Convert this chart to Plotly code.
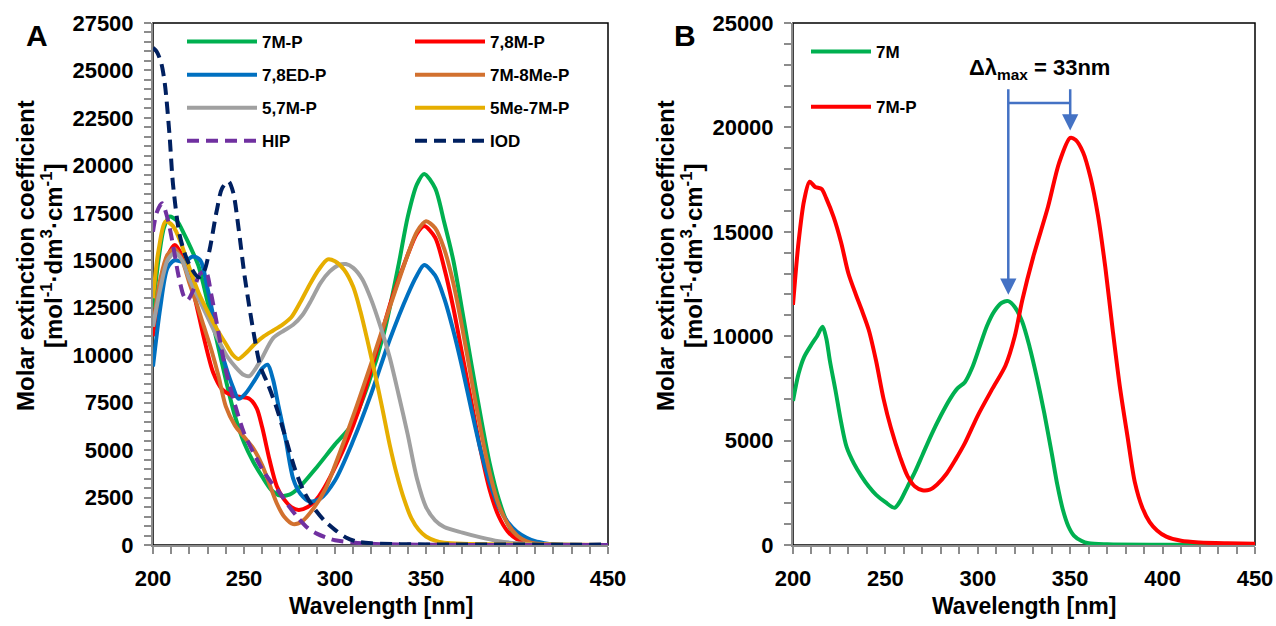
import numpy as np
import plotly.graph_objects as go
from plotly.subplots import make_subplots

# ---- panel A data (wavelength [nm], molar extinction coefficient) ----
wl_7MP = [200, 203, 206, 209, 213, 217, 221, 225, 230, 235, 240, 245, 250, 255, 260, 265, 270, 275, 280,
          290, 300, 309, 318, 327, 335, 340, 345, 349, 355, 360, 365, 370, 375, 380, 385, 390, 395, 400, 405, 410, 450]
eps_7MP = [12500, 15000, 16700, 17300, 17100, 16400, 15600, 14700, 12800, 10800, 8700, 6800, 5400, 4400, 3600,
           2900, 2600, 2650, 3000, 4100, 5300, 6300, 8400, 11200, 14800, 17300, 19000, 19550, 18800, 17000, 15000,
           12300, 9500, 6800, 4300, 2400, 1100, 400, 120, 30, 0]

wl_78MP = [200, 204, 208, 212, 218, 223, 228, 233, 238, 243, 248, 253, 257, 260, 264, 268, 272, 276, 280, 285,
           291, 302, 313, 324, 331, 340, 345, 349, 355, 360, 365, 370, 375, 380, 385, 390, 395, 400, 405, 410, 450]
eps_78MP = [11000, 13500, 15200, 15800, 14800, 13000, 10900, 9100, 8200, 7900, 7800, 7700, 7200, 6200, 4500,
            3100, 2400, 2000, 1850, 2000, 2550, 4480, 7100, 10600, 12900, 15300, 16400, 16800, 16200, 14600, 12500,
            10000, 7500, 5000, 2900, 1500, 700, 300, 120, 40, 0]

wl_78EDP = [200, 204, 208, 212, 217, 222, 226, 230, 235, 240, 244, 247, 251, 256, 260, 263, 266, 269, 273, 277,
            281, 286, 292, 300, 310, 320, 330, 340, 345, 349, 355, 360, 365, 370, 375, 380, 385, 390, 395, 400, 405,
            410, 415, 420, 450]
eps_78EDP = [9400, 12500, 14600, 15000, 14900, 15200, 15000, 13500, 11200, 9400, 8300, 7700, 8000, 8700, 9300,
             9500, 8700, 7300, 5500, 3500, 2700, 2300, 2450, 3400, 5500, 8000, 10800, 13200, 14200, 14750, 14200,
             13000, 11300, 9300, 7100, 5000, 3300, 2000, 1200, 700, 400, 200, 100, 40, 0]

wl_7M8MeP = [200, 204, 208, 212, 216, 220, 224, 228, 232, 236, 240, 245, 250, 255, 260, 264, 268, 272, 277, 282,
             288, 295, 300, 310, 320, 330, 340, 345, 350, 355, 360, 365, 370, 375, 380, 385, 390, 395, 400, 405,
             410, 420, 450]
eps_7M8MeP = [11500, 14000, 15300, 15600, 15000, 13800, 12700, 11500, 10300, 8900, 7300, 6300, 5700, 5100, 4200,
              3200, 2200, 1500, 1100, 1250, 1900, 3000, 4200, 6800, 9600, 12500, 15300, 16500, 17050, 16700, 15600,
              13800, 11400, 8700, 6100, 3800, 2100, 1100, 500, 200, 80, 20, 0]

wl_57MP = [200, 204, 208, 212, 216, 220, 225, 232, 241, 250, 253, 259, 266, 272, 277, 282, 287, 292, 297, 302,
           306, 310, 315, 320, 325, 330, 335, 340, 345, 350, 355, 360, 370, 380, 390, 400, 410, 450]
eps_57MP = [11500, 13500, 15000, 15400, 15000, 14000, 13000, 11600, 9900, 8950, 8900, 9700, 10900, 11300, 11600,
            12100, 12900, 13800, 14400, 14750, 14800, 14600, 14000, 12900, 11500, 9900, 7900, 5800, 3500, 2000,
            1300, 950, 650, 400, 200, 90, 30, 0]

wl_5Me7MP = [200, 203, 207, 211, 215, 220, 225, 230, 235, 240, 244, 247, 251, 256, 261, 266, 271, 276, 281, 286,
             291, 296, 300, 305, 310, 314, 318, 322, 326, 330, 334, 338, 342, 346, 350, 355, 360, 370, 400, 450]
eps_5Me7MP = [13000, 15500, 17050, 16800, 16000, 14600, 13300, 12300, 11400, 10600, 10000, 9800, 10100, 10600,
              11000, 11300, 11600, 12000, 12800, 13700, 14500, 15050, 14950, 14500, 13600, 12300, 10700, 9000, 7200,
              5300, 3700, 2400, 1400, 800, 450, 230, 120, 60, 20, 0]

wl_HIP = [200, 202, 205, 208, 211, 214, 217, 219, 222, 226, 229, 232, 235, 240, 245, 250, 255, 260, 265, 270, 275,
          280, 285, 290, 295, 300, 310, 320, 340, 450]
eps_HIP = [16500, 17500, 18000, 17200, 15800, 14200, 13100, 12900, 13400, 14300, 14400, 13200, 11700, 9200, 7400,
           5900, 4900, 4000, 3300, 2700, 2000, 1400, 900, 600, 400, 250, 130, 60, 20, 0]

wl_IOD = [200, 202, 204.5, 206.5, 209, 211, 214.5, 218, 221, 225, 228, 231, 235, 238, 241.5, 244, 247, 250, 253,
          256, 259, 263, 268, 273, 278, 283, 288, 294, 300, 306, 312, 320, 340, 450]
eps_IOD = [26200, 26000, 25400, 24300, 21700, 19000, 16400, 15200, 14600, 14100, 14400, 15500, 17600, 18800, 19150,
           18600, 16700, 14400, 12500, 10800, 9400, 8500, 7200, 5600, 4000, 2800, 2000, 1300, 800, 400, 180, 90, 40, 20]

# ---- panel B data ----
wl_7M = [200, 203, 206, 210, 213, 216, 218, 220, 223, 226, 229, 233, 237, 241, 245, 250, 255, 258, 262, 266, 270,
         275, 280, 285, 289, 293, 297, 301, 305, 309, 313, 316.5, 320, 324, 328, 332, 336, 340, 343, 346, 349, 352,
         356, 360, 370, 400, 450]
eps_7M = [6900, 8200, 9000, 9600, 10000, 10450, 9900, 8800, 7400, 5900, 4700, 3900, 3300, 2800, 2400, 2050, 1780,
          2100, 2800, 3500, 4300, 5300, 6200, 7000, 7500, 7800, 8500, 9500, 10500, 11200, 11600, 11680, 11400, 10700,
          9500, 8000, 6300, 4400, 2900, 1700, 900, 450, 200, 80, 30, 10, 5]

wl_7MP_B = [200, 203, 206, 209, 212, 215.5, 218, 222, 226, 230, 234, 237, 241, 245, 249, 253, 258, 262, 266, 270,
            274, 278, 283, 288, 293, 300, 308, 315, 320, 324, 330, 338, 344, 350, 353, 357, 361, 365, 369, 373, 377,
            381, 385, 389, 393, 397, 402, 410, 420, 435, 450]
eps_7MP_B = [11500, 14500, 16500, 17400, 17150, 17050, 16600, 15700, 14500, 13000, 12000, 11300, 10300, 8800, 7000,
             5600, 4200, 3300, 2800, 2620, 2650, 2900, 3400, 4100, 4880, 6200, 7500, 8600, 10000, 11700, 13800, 16200,
             18300, 19500, 19400, 18800, 17600, 15800, 13300, 10300, 7500, 5200, 3000, 1800, 1100, 700, 400, 200, 120,
             80, 60]

FONT = "Liberation Sans, Arial, sans-serif"
BLUE_ARROW = "#4472C4"
W, H = 1276, 626
PLOT_TOP, PLOT_BOTTOM = 23, 545


def px_x(px):
    return px / W


def px_y(py):
    return (PLOT_BOTTOM - py) / (PLOT_BOTTOM - PLOT_TOP)


series_A = [
    ("7M-P", wl_7MP, eps_7MP, "#00B050", "solid", "legend"),
    ("7,8M-P", wl_78MP, eps_78MP, "#FF0000", "solid", "legend2"),
    ("7,8ED-P", wl_78EDP, eps_78EDP, "#0070C0", "solid", "legend"),
    ("7M-8Me-P", wl_7M8MeP, eps_7M8MeP, "#D2712F", "solid", "legend2"),
    ("5,7M-P", wl_57MP, eps_57MP, "#A0A0A0", "solid", "legend"),
    ("5Me-7M-P", wl_5Me7MP, eps_5Me7MP, "#E6AE00", "solid", "legend2"),
    ("HIP", wl_HIP, eps_HIP, "#7030A0", "12px,7px", "legend"),
    ("IOD", wl_IOD, eps_IOD, "#002060", "12px,7px", "legend2"),
]

fig = make_subplots(rows=1, cols=2)

for name, x, y, color, dash, leg in series_A:
    fig.add_trace(go.Scatter(x=x, y=y, name=name, mode="lines", legend=leg, legendgroup=name,
                             line=dict(color=color, width=4, dash=dash, shape="spline", smoothing=0.8)),
                  row=1, col=1)

fig.add_trace(go.Scatter(x=wl_7M, y=eps_7M, name="7M", mode="lines", legend="legend3", legendgroup="7M",
                         line=dict(color="#00B050", width=4, shape="spline", smoothing=0.8)), row=1, col=2)
fig.add_trace(go.Scatter(x=wl_7MP_B, y=eps_7MP_B, name="7M-P", mode="lines", legend="legend3", legendgroup="7MPB",
                         line=dict(color="#FF0000", width=4, shape="spline", smoothing=0.8)), row=1, col=2)

tickfont = dict(family=FONT, size=22, color="black", weight="bold")
titlefont = dict(family=FONT, size=23, color="black", weight="bold")
ytitlefont = dict(family=FONT, size=24, color="black", weight="bold")

axis_common = dict(showline=True, linecolor="#8C8C8C", linewidth=2, ticks="outside", ticklen=7,
                   tickwidth=1.5, tickcolor="#8C8C8C", showgrid=False, zeroline=False, tickfont=tickfont,
                   ticklabelstandoff=6, automargin=False, tickformat="d")

fig.update_xaxes(**axis_common, range=[200, 450], dtick=50, tick0=200,
                 minor=dict(dtick=10, ticks="outside", ticklen=7, tickcolor="#8C8C8C", tickwidth=1.5))
fig.update_xaxes(domain=[px_x(153), px_x(608)], row=1, col=1)
fig.update_xaxes(domain=[px_x(793), px_x(1255)], row=1, col=2)

fig.update_yaxes(**axis_common)
fig.update_yaxes(range=[0, 27500], dtick=2500,
                 minor=dict(dtick=500, ticks="outside", ticklen=7, tickcolor="#8C8C8C", tickwidth=1.5),
                 row=1, col=1)
fig.update_yaxes(range=[0, 25000], dtick=5000,
                 minor=dict(dtick=1000, ticks="outside", ticklen=7, tickcolor="#8C8C8C", tickwidth=1.5),
                 row=1, col=2)

# plot-area borders (black), below the grey axis lines
for xr, yr in (("x domain", "y domain"), ("x2 domain", "y2 domain")):
    fig.add_shape(type="rect", xref=xr, yref=yr, x0=0, x1=1, y0=0, y1=1,
                  line=dict(color="black", width=1.5), layer="below")

# axis titles
ytitle1 = "Molar extinction coefficient"
ytitle2 = "[mol<sup>-1</sup>·dm<sup>3</sup>·cm<sup>-1</sup>]"
for x1, x2 in ((25, 52), (665, 692)):
    for xc, txt in ((x1, ytitle1), (x2, ytitle2)):
        fig.add_annotation(x=px_x(xc), y=px_y(256), xref="paper", yref="paper", text=txt, textangle=-90,
                           xanchor="center", yanchor="middle", showarrow=False, font=ytitlefont)
for xc in ((153 + 608) / 2, (793 + 1255) / 2):
    fig.add_annotation(x=px_x(xc), y=px_y(606), xref="paper", yref="paper", text="Wavelength [nm]",
                       xanchor="center", yanchor="middle", showarrow=False, font=titlefont)

# Δλmax bracket between the two band maxima
peak_g = wl_7M[int(np.argmax(eps_7M))]
peak_r = wl_7MP_B[int(np.argmax(eps_7MP_B))]
top_y = 21900
bar_y = 21170
for px, py in ((peak_g, max(eps_7M) + 300), (peak_r, max(eps_7MP_B) + 350)):
    fig.add_annotation(x=px, y=py, ax=px, ay=top_y, xref="x2", yref="y2", axref="x2", ayref="y2",
                       text="", showarrow=True, arrowhead=2, arrowsize=1.3, arrowwidth=2.5,
                       arrowcolor=BLUE_ARROW, standoff=0, startstandoff=0)
fig.add_shape(type="line", xref="x2", yref="y2", x0=peak_g, x1=peak_r, y0=bar_y, y1=bar_y,
              line=dict(color=BLUE_ARROW, width=2.5))
fig.add_annotation(x=(peak_g + peak_r) / 2 + 0.2, y=top_y + 150, xref="x2", yref="y2", showarrow=False,
                   text="Δλ<sub>max</sub> = 33nm", font=dict(family=FONT, size=22, color="black", weight="bold"),
                   xanchor="center", yanchor="bottom")

# panel letters
for letter, xc in (("A", 37), ("B", 685)):
    fig.add_annotation(x=px_x(xc), y=px_y(36), xref="paper", yref="paper", text=letter, showarrow=False,
                       xanchor="center", yanchor="middle",
                       font=dict(family=FONT, size=30, color="black", weight="bold"))

legfont = dict(family=FONT, size=17, color="black", weight="bold")
leg_common = dict(xanchor="left", yanchor="top", bgcolor="rgba(0,0,0,0)", font=legfont,
                  tracegroupgap=8, itemwidth=70, traceorder="grouped")

fig.update_layout(
    width=W, height=H,
    margin=dict(l=0, r=0, t=PLOT_TOP, b=H - PLOT_BOTTOM),
    paper_bgcolor="white", plot_bgcolor="white",
    font=dict(family=FONT, color="black"),
    showlegend=True,
    legend=dict(x=px_x(182), y=px_y(24), **leg_common),
    legend2=dict(x=px_x(410), y=px_y(24), **leg_common),
    legend3=dict(x=px_x(806), y=px_y(34), **{**leg_common, "tracegroupgap": 30, "itemwidth": 60}),
)

# the page body has a default 8px margin; drop it so the figure sits at the window origin
fig.write_html("out.html", config={"displayModeBar": False},
               post_script="document.body.style.margin='0px';")
